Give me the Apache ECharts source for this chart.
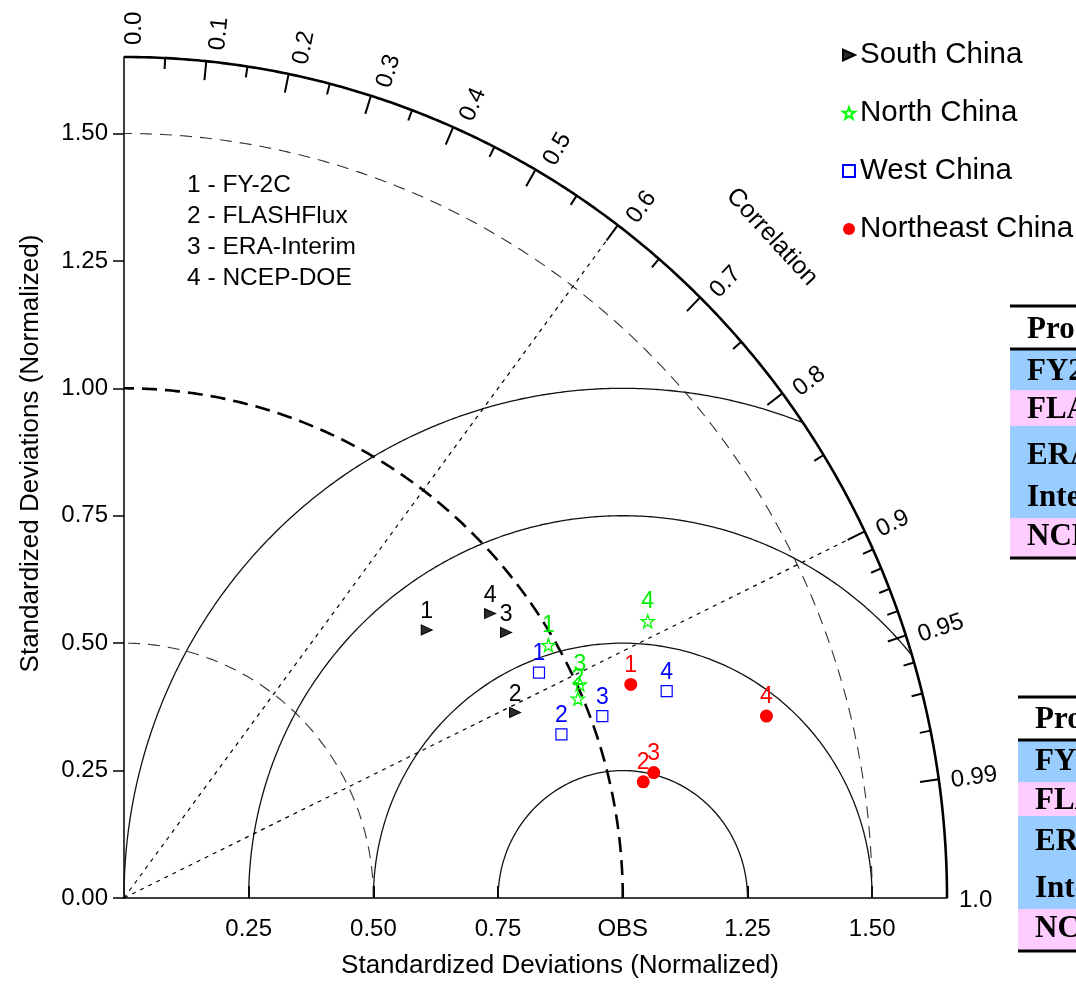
<!DOCTYPE html>
<html><head><meta charset="utf-8">
<script src="https://cdn.jsdelivr.net/npm/echarts@6/dist/echarts.min.js"></script>
<style>html,body{margin:0;padding:0;background:#fff}#c{width:1076px;height:984px}</style>
</head><body><div id="c"></div>
<script>
// ---------- data ----------
const regions = ['South China', 'North China', 'West China', 'Northeast China'];
// [x, y] in normalized standard-deviation space (x = std*R, y = std*sqrt(1-R^2))
const southChina     = [[0.607, 0.526], [0.784, 0.364], [0.766, 0.521], [0.734, 0.558]];
const northChina     = [[0.851, 0.496], [0.910, 0.391], [0.914, 0.419], [1.050, 0.543]];
const westChina      = [[0.832, 0.442], [0.877, 0.321], [0.959, 0.357], [1.088, 0.406]];
const northeastChina = [[1.016, 0.419], [1.041, 0.228], [1.062, 0.246], [1.288, 0.357]];
const productLines = ['1 - FY-2C', '2 - FLASHFlux', '3 - ERA-Interim', '4 - NCEP-DOE'];
const stdTicks = [0, 0.25, 0.5, 0.75, 1.0, 1.25, 1.5];
const xTickValues = [0.25, 0.5, 0.75, 1.0, 1.25, 1.5];
const corrMajor = [0.1, 0.2, 0.3, 0.4, 0.5, 0.6, 0.7, 0.8, 0.9, 0.95, 0.99];
const corrLabelValues = [0.0, 0.1, 0.2, 0.3, 0.4, 0.5, 0.6, 0.7, 0.8, 0.9, 0.95, 0.99, 1.0];
const corrMinor = [0.05, 0.15, 0.25, 0.35, 0.45, 0.55, 0.65, 0.75, 0.85, 0.91, 0.92, 0.93, 0.94, 0.96, 0.97, 0.98];
const stdArcs = [0.5, 1.5];
const refStd = 1.0;
const rmsArcs = [0.25, 0.5, 0.75, 1.0];
const corrLines = [0.6, 0.9];
const maxStd = 1.65;
const table1Rows = ['Products', 'FY2C', 'FLASHFlux', 'ERA-', 'Interim', 'NCEP-DOE'];
const table2Rows = ['Products', 'FY2C', 'FLASHFlux', 'ERA-', 'Interim', 'NCEP-DOE'];

// ---------- geometry helpers ----------
function circlePts(cx, cy, r, a0, a1, n) {
  const pts = [];
  for (let i = 0; i <= n; i++) {
    const a = a0 + (a1 - a0) * i / n;
    pts.push([cx + r * Math.cos(a), cy + r * Math.sin(a)]);
  }
  return pts;
}
function rmsArc(rho) {
  // circle centred on OBS (1,0), clipped by the outer std arc
  const xi = (maxStd * maxStd - rho * rho + 1) / 2;
  let a0 = 0;
  if (1 + rho > maxStd) {
    const yi = Math.sqrt(maxStd * maxStd - xi * xi);
    a0 = Math.atan2(yi, xi - 1);
  }
  return circlePts(1, 0, rho, a0, Math.PI, 400);
}
function fmtCorr(v) {
  const k = Math.round(v * 100);
  return (k % 10 === 0) ? v.toFixed(1) : v.toFixed(2);
}

const FONT = '"Liberation Sans", Arial, Helvetica, sans-serif';
const SERIF = '"Liberation Serif", "Times New Roman", serif';
const STAR = 'path://M0,-10L2.35,-3.24L9.51,-3.09L3.8,1.24L5.88,8.09L0,4L-5.88,8.09L-3.8,1.24L-9.51,-3.09L-2.35,-3.24Z';
const TRI_RIGHT = 'path://M0,0L10,4.5L0,9Z';

function lineSeries(data, style) {
  return { type: 'line', data, showSymbol: false, symbol: 'none', silent: true, clip: false,
    lineStyle: style, z: 1, animation: false };
}

const series = [];
// outer correlation arc
series.push(lineSeries(circlePts(0, 0, maxStd, 0, Math.PI / 2, 300), { color: '#000', width: 2.6 }));
// std arcs (dashed)
stdArcs.forEach(r => series.push(lineSeries(circlePts(0, 0, r, 0, Math.PI / 2, 300), { color: '#333', width: 1.1, type: [12, 8] })));
series.push(lineSeries(circlePts(0, 0, refStd, 0, Math.PI / 2, 300), { color: '#000', width: 2.6, type: [15, 8] }));
// RMS arcs (solid)
rmsArcs.forEach(r => series.push(lineSeries(rmsArc(r), { color: '#111', width: 1.3 })));
// correlation lines (dotted)
corrLines.forEach(c => {
  const th = Math.acos(c);
  series.push(lineSeries([[0, 0], [maxStd * Math.cos(th), maxStd * Math.sin(th)]], { color: '#000', width: 1.2, type: [4, 5] }));
});
// correlation ticks + labels
const tickData = corrMajor.map(v => [v, 1]).concat(corrMinor.map(v => [v, 0]));
series.push({
  type: 'custom', silent: true, z: 3, animation: false, clip: false,
  data: tickData,
  renderItem(params, api) {
    const c = api.value(0), major = api.value(1);
    const th = Math.acos(c);
    const p = api.coord([maxStd * Math.cos(th), maxStd * Math.sin(th)]);
    const o = api.coord([0, 0]);
    let dx = p[0] - o[0], dy = p[1] - o[1];
    const L = Math.hypot(dx, dy); dx /= L; dy /= L;
    const len = major ? 19 : 11;
    return { type: 'line', shape: { x1: p[0], y1: p[1], x2: p[0] - dx * len, y2: p[1] - dy * len },
      style: { stroke: '#000', lineWidth: 2 } };
  }
});
series.push({
  type: 'custom', silent: true, z: 3, animation: false, clip: false,
  data: corrLabelValues.map(v => [v, 0]),
  renderItem(params, api) {
    const c = api.value(0);
    const th = Math.acos(c);
    const p = api.coord([maxStd * Math.cos(th), maxStd * Math.sin(th)]);
    const o = api.coord([0, 0]);
    let dx = p[0] - o[0], dy = p[1] - o[1];
    const L = Math.hypot(dx, dy); dx /= L; dy /= L;
    const gap = 12, toff = 2 + 8 * Math.sin(th);
    const tx = p[0] + dx * gap - dy * toff;
    const ty = p[1] + dy * gap + dx * toff;
    return { type: 'text', x: tx, y: ty, rotation: Math.atan2(-dy, dx),
      style: { text: fmtCorr(c), x: 0, y: 0, align: 'left', verticalAlign: 'middle',
        font: '24px ' + FONT, fill: '#000' } };
  }
});

function scatter(name, data, symbol, size, itemStyle, labelColor) {
  return {
    type: 'scatter', name, data, symbol, symbolSize: size, z: 5,
    itemStyle: Object.assign({ opacity: 1 }, itemStyle), animation: false,
    label: { show: true, position: 'top', distance: 1, color: labelColor, fontSize: 23, fontFamily: FONT,
      formatter: p => String(p.dataIndex + 1) }
  };
}
series.push(scatter('South China', southChina, TRI_RIGHT, [11, 10], { color: '#2a2a2a', borderColor: '#000', borderWidth: 1 }, '#000'));
series.push(scatter('North China', northChina, STAR, 13, { color: 'rgba(255,255,255,0)', borderColor: '#00ff00', borderWidth: 1.3 }, '#00ee00'));
series.push(scatter('West China', westChina, 'rect', 11, { color: 'rgba(255,255,255,0)', borderColor: '#0000ff', borderWidth: 1.2 }, '#0000ff'));
series.push(scatter('Northeast China', northeastChina, 'circle', 13, { color: '#ff0000' }, '#ff0000'));

// ---------- tables (partly outside the canvas, as in the reference) ----------
function table(x0, tx, lines, bands, texts, fs) {
  const els = [];
  bands.forEach(b => els.push({ type: 'rect', shape: { x: x0, y: b[0], width: 200, height: b[1] - b[0] }, style: { fill: b[2] }, z: 1 }));
  lines.forEach(y => els.push({ type: 'line', shape: { x1: x0, y1: y, x2: 1300, y2: y }, style: { stroke: '#000', lineWidth: 3 }, z: 2 }));
  texts.forEach(t => els.push({ type: 'text', x: tx, y: t[1], style: { text: t[0], font: 'bold ' + fs + 'px ' + SERIF, fill: '#000', verticalAlign: 'middle', align: 'left' }, z: 3 }));
  return els;
}
const BLUE = '#99ccff', PINK = '#ffccff';
const tbl1 = table(1010, 1027, [306, 349, 558],
  [[349, 390, BLUE], [390, 426, PINK], [426, 518, BLUE], [518, 557, PINK]],
  table1Rows.map((t, i) => [t, [330, 372, 410, 456, 498, 537][i]]), 31);
const tbl2 = table(1018, 1035, [697, 740, 951],
  [[740, 782, BLUE], [782, 816, PINK], [816, 909, BLUE], [909, 950, PINK]],
  table2Rows.map((t, i) => [t, [720, 762, 801, 842, 889, 929][i]]), 31);

const chart = echarts.init(document.getElementById('c'), null, { renderer: 'canvas' });
chart.setOption({
  backgroundColor: '#fff',
  animation: false,
  grid: { left: 124, top: 57, width: 823, height: 843, containLabel: false },
  title: {
    text: productLines.join('\n'), left: 182, top: 165, padding: 5,
    textStyle: { fontSize: 24.5, fontWeight: 'normal', color: '#000', fontFamily: FONT, lineHeight: 31 }
  },
  legend: {
    orient: 'vertical', left: 837, top: 35, itemWidth: 12, itemHeight: 12, itemGap: 28,
    selectedMode: false, data: regions,
    textStyle: { fontSize: 29.5, color: '#000', fontFamily: FONT }
  },
  xAxis: {
    type: 'value', min: 0, max: maxStd,
    name: 'Standardized Deviations (Normalized)', nameLocation: 'middle', nameGap: 55,
    nameTextStyle: { fontSize: 26, color: '#000', fontFamily: FONT, padding: [0, 0, 0, 49] },
    axisLine: { show: true, onZero: false, lineStyle: { color: '#000', width: 1.5 } },
    axisTick: { show: true, inside: true, length: 12, customValues: xTickValues, lineStyle: { color: '#000', width: 2 } },
    axisLabel: { show: true, customValues: xTickValues, margin: 19, color: '#000', fontSize: 24, fontFamily: FONT,
      formatter: v => (Math.abs(v - 1) < 1e-9 ? 'OBS' : v.toFixed(2)) },
    splitLine: { show: false }
  },
  yAxis: {
    type: 'value', min: 0, max: maxStd,
    name: 'Standardized Deviations (Normalized)', nameLocation: 'middle', nameGap: 80, nameRotate: 90,
    nameTextStyle: { fontSize: 26, color: '#000', fontFamily: FONT, padding: [0, 0, 0, 48] },
    axisLine: { show: true, onZero: false, lineStyle: { color: '#000', width: 1.5 } },
    axisTick: { show: true, inside: false, length: 11, customValues: stdTicks, lineStyle: { color: '#000', width: 1.5 } },
    axisLabel: { show: true, customValues: stdTicks, margin: 16, color: '#000', fontSize: 24, fontFamily: FONT,
      formatter: v => v.toFixed(2) },
    splitLine: { show: false }
  },
  graphic: [
    { type: 'text', x: 772, y: 237, rotation: -0.829,
      style: { text: 'Correlation', font: '25px ' + FONT, fill: '#000', align: 'center', verticalAlign: 'middle' } }
  ].concat(tbl1, tbl2),
  series
});
</script></body></html>
